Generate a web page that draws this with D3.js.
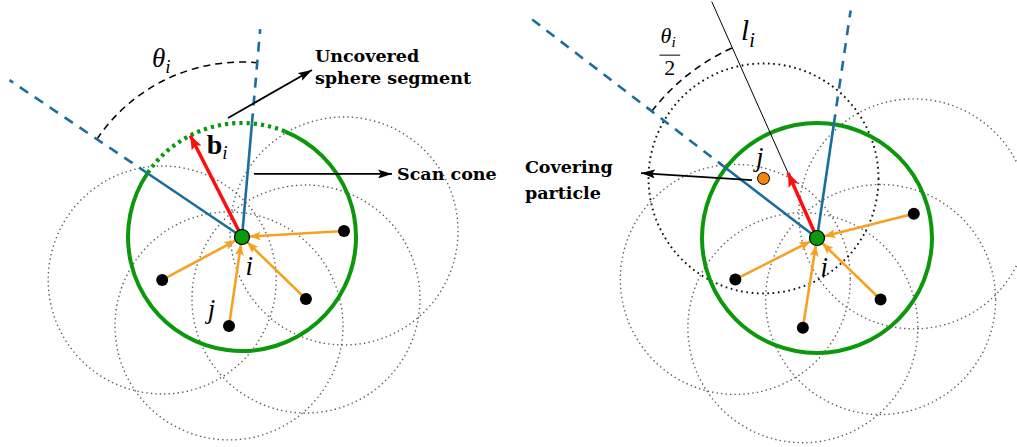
<!DOCTYPE html>
<html>
<head>
<meta charset="utf-8">
<script src="https://cdn.jsdelivr.net/npm/d3@7"></script>
<style>
  body { margin: 0; background: #fff; }
  svg { display: block; }
</style>
</head>
<body>
<div id="fig"></div>
<script>
// panel layout (pixel centre of particle i and pixel size of one radius)
var panels = ['left', 'right'];
var panelCenterX = [242, 817];
var panelCenterY = [237, 238];
var panelRadius = [114, 115];

// neighbour particles j, offsets from i in radius units (y up)
var neighboursLeft = [[0.895, 0.053], [-0.70, -0.377], [0.561, -0.544], [-0.114, -0.78]];
var neighboursRight = [[0.842, 0.21], [-0.71, -0.36], [0.553, -0.535], [-0.123, -0.78]];

// scan cone edges, degrees, and how far the dashed part reaches (radius units)
var coneAngles = [[146, 85], [142.5, 81.6]];
var coneReach = [[2.46, 1.83], [3.15, 2.0]];

// b_i direction (deg) and length (radius units)
var bAngle = [117, 114];
var bLength = [1.0, 0.62];

// angle arc radius (radius units)
var arcRadius = [1.535, 1.81];

// uncovered segment of the green sphere (deg), left panel only
var uncovered = [68, 146];

// covering particle (right panel)
var covering = [-0.465, 0.518];

var green = '#0b980b', blue = '#1b6d9b', orange = '#f7a123', red = '#ff0d0d';
var mathFont = '"Liberation Serif", "DejaVu Serif", serif';
var boldFont = '"DejaVu Serif", "Liberation Serif", serif';

var W = 1017, H = 447;
var svg = d3.select('#fig').append('svg')
	.attr('width', W)
	.attr('height', H)
	.style('font-family', boldFont);

var defs = svg.append('defs');
function marker(id, color, len, wid) {
	defs.append('marker')
		.attr('id', id)
		.attr('markerUnits', 'userSpaceOnUse')
		.attr('viewBox', '0 0 ' + len + ' ' + wid)
		.attr('refX', len).attr('refY', wid / 2)
		.attr('markerWidth', len).attr('markerHeight', wid)
		.attr('orient', 'auto')
		.append('path')
		.attr('d', 'M0,0 L' + len + ',' + (wid / 2) + ' L0,' + wid + ' L' + (len * 0.2) + ',' + (wid / 2) + 'Z')
		.attr('fill', color);
}
marker('headBlack', '#000', 14, 9);
marker('headOrange', orange, 11, 9);
marker('headRed', red, 14, 11);

function rad(d) { return d * Math.PI / 180; }

// open arc from math angle a0 to a1 (deg, ccw from +x)
function arcPath(r, a0, a1) {
	var p = d3.path();
	p.moveTo(r * Math.cos(rad(a0)), -r * Math.sin(rad(a0)));
	p.arc(0, 0, r, -rad(a0), -rad(a1), a1 > a0);
	return p.toString();
}

panels.forEach(function(name, p) {
	var R = panelRadius[p];
	var x = d3.scaleLinear().domain([-1, 1]).range([panelCenterX[p] - R, panelCenterX[p] + R]);
	var y = d3.scaleLinear().domain([-1, 1]).range([panelCenterY[p] + R, panelCenterY[p] - R]);
	var g = svg.append('g').attr('class', name);
	var nb = p === 0 ? neighboursLeft : neighboursRight;
	function polar(a, r) { return [x(r * Math.cos(rad(a))), y(r * Math.sin(rad(a)))]; }

	// neighbour spheres (grey dotted)
	g.selectAll('circle.nbsphere').data(nb).enter().append('circle')
		.attr('class', 'nbsphere')
		.attr('cx', function(d) { return x(d[0]); })
		.attr('cy', function(d) { return y(d[1]); })
		.attr('r', x(1) - x(0))
		.attr('fill', 'none')
		.attr('stroke', '#5e5e5e')
		.attr('stroke-width', 1.4)
		.attr('stroke-dasharray', '1.4,3.1');

	// covering particle sphere (black dotted)
	if (p === 1) {
		g.append('circle')
			.attr('cx', x(covering[0])).attr('cy', y(covering[1]))
			.attr('r', x(1) - x(0))
			.attr('fill', 'none')
			.attr('stroke', '#111')
			.attr('stroke-width', 1.9)
			.attr('stroke-dasharray', '1.7,3.6');
	}

	// green sphere of particle i
	var tr = 'translate(' + x(0) + ',' + y(0) + ')';
	if (p === 0) {
		g.append('path').attr('transform', tr)
			.attr('d', arcPath(R, uncovered[1], uncovered[0] + 360))
			.attr('fill', 'none').attr('stroke', green).attr('stroke-width', 4);
		g.append('path').attr('transform', tr)
			.attr('d', arcPath(R, uncovered[0], uncovered[1]))
			.attr('fill', 'none').attr('stroke', green).attr('stroke-width', 4.2)
			.attr('stroke-dasharray', '3.2,4');
	} else {
		g.append('circle')
			.attr('cx', x(0)).attr('cy', y(0)).attr('r', R)
			.attr('fill', 'none').attr('stroke', green).attr('stroke-width', 4);
	}

	// angle arc (black dashed)
	var arcEnd = p === 0 ? coneAngles[0][1] : bAngle[1];
	g.append('path').attr('transform', tr)
		.attr('d', arcPath(x(arcRadius[p]) - x(0), coneAngles[p][0], arcEnd))
		.attr('fill', 'none').attr('stroke', '#000').attr('stroke-width', 1.5)
		.attr('stroke-dasharray', '7,5');

	// l_i line (right panel)
	if (p === 1) {
		var lEnd = polar(bAngle[1], 2.25);
		g.append('line')
			.attr('x1', x(0)).attr('y1', y(0))
			.attr('x2', lEnd[0]).attr('y2', lEnd[1])
			.attr('stroke', '#000').attr('stroke-width', 1);
	}

	// scan cone edges
	coneAngles[p].forEach(function(a, k) {
		var inner = polar(a, 1), outer = polar(a, coneReach[p][k]);
		g.append('line')
			.attr('x1', x(0)).attr('y1', y(0)).attr('x2', inner[0]).attr('y2', inner[1])
			.attr('stroke', blue).attr('stroke-width', 2.6);
		g.append('line')
			.attr('x1', inner[0]).attr('y1', inner[1]).attr('x2', outer[0]).attr('y2', outer[1])
			.attr('stroke', blue).attr('stroke-width', 2.6)
			.attr('stroke-dasharray', '10,8');
	});

	// orange arrows j -> i
	g.selectAll('line.pull').data(nb).enter().append('line')
		.attr('class', 'pull')
		.attr('x1', function(d) { return x(d[0]); })
		.attr('y1', function(d) { return y(d[1]); })
		.attr('x2', function(d) { var L = Math.hypot(d[0], d[1]); return x(d[0] * 7.5 / R / L); })
		.attr('y2', function(d) { var L = Math.hypot(d[0], d[1]); return y(d[1] * 7.5 / R / L); })
		.attr('stroke', orange).attr('stroke-width', 2.6)
		.attr('marker-end', 'url(#headOrange)');

	// b_i red arrow
	var bt = polar(bAngle[p], bLength[p]);
	g.append('line')
		.attr('x1', x(0)).attr('y1', y(0)).attr('x2', bt[0]).attr('y2', bt[1])
		.attr('stroke', red).attr('stroke-width', 3.5)
		.attr('marker-end', 'url(#headRed)');

	// neighbour particles
	g.selectAll('circle.nb').data(nb).enter().append('circle')
		.attr('class', 'nb')
		.attr('cx', function(d) { return x(d[0]); })
		.attr('cy', function(d) { return y(d[1]); })
		.attr('r', 6).attr('fill', '#000');

	// particle i
	g.append('circle')
		.attr('cx', x(0)).attr('cy', y(0)).attr('r', 7.5)
		.attr('fill', '#0a9a0a').attr('stroke', '#000').attr('stroke-width', 1.2);

	if (p === 1) {
		g.append('circle')
			.attr('cx', x(covering[0])).attr('cy', y(covering[1])).attr('r', 6)
			.attr('fill', '#f5840f').attr('stroke', '#000').attr('stroke-width', 1);
	}

	// math labels
	function italic(tx, ty, main, sub, size) {
		var t = g.append('text').attr('x', tx).attr('y', ty)
			.style('font-family', mathFont)
			.style('font-style', 'italic').style('font-size', size + 'px')
			.text(main);
		if (sub) t.append('tspan').attr('dy', size * 0.22).style('font-size', (size * 0.7) + 'px').text(sub);
		return t;
	}
	italic(x(0.03), y(-0.33), 'i', null, 27);

	if (p === 0) {
		italic(x(-0.30), y(-0.71), 'j', null, 27);
		italic(x(-0.79), y(1.49), 'θ', 'i', 27);
		var bt2 = g.append('text').attr('x', x(-0.31)).attr('y', y(0.73))
			.style('font-family', mathFont)
			.style('font-size', '28px').style('font-weight', 'bold').text('b');
		bt2.append('tspan').attr('dy', 5).style('font-style', 'italic').style('font-weight', 'normal')
			.style('font-size', '19px').text('i');

		// annotations
		var ua = [[-0.123, 1.044], [0.614, 1.465]];
		g.append('line')
			.attr('x1', x(ua[0][0])).attr('y1', y(ua[0][1])).attr('x2', x(ua[1][0])).attr('y2', y(ua[1][1]))
			.attr('stroke', '#000').attr('stroke-width', 1.8).attr('marker-end', 'url(#headBlack)');
		var sa = [[0.105, 0.553], [1.316, 0.553]];
		g.append('line')
			.attr('x1', x(sa[0][0])).attr('y1', y(sa[0][1])).attr('x2', x(sa[1][0])).attr('y2', y(sa[1][1]))
			.attr('stroke', '#000').attr('stroke-width', 1.8).attr('marker-end', 'url(#headBlack)');
		g.append('text').attr('x', x(0.64)).attr('y', y(1.535))
			.style('font-weight', 'bold').style('font-size', '17.5px').text('Uncovered');
		g.append('text').attr('x', x(0.64)).attr('y', y(1.342))
			.style('font-weight', 'bold').style('font-size', '17.5px').text('sphere segment');
		g.append('text').attr('x', x(1.36)).attr('y', y(0.50))
			.style('font-weight', 'bold').style('font-size', '17.5px').text('Scan cone');
	} else {
		italic(x(-0.53), y(0.626), 'j', null, 27);
		italic(x(-0.66), y(1.72), 'l', 'i', 29);
		// theta_i / 2
		italic(x(-1.36), y(1.70), 'θ', 'i', 22);
		g.append('line')
			.attr('x1', x(-1.37)).attr('x2', x(-1.19))
			.attr('y1', y(1.59)).attr('y2', y(1.59))
			.attr('stroke', '#000').attr('stroke-width', 1);
		g.append('text').attr('x', x(-1.28)).attr('y', y(1.42))
			.attr('text-anchor', 'middle')
			.style('font-family', mathFont).style('font-size', '22px').text('2');

		var ca = [[-0.565, 0.504], [-1.53, 0.565]];
		g.append('line')
			.attr('x1', x(ca[0][0])).attr('y1', y(ca[0][1])).attr('x2', x(ca[1][0])).attr('y2', y(ca[1][1]))
			.attr('stroke', '#000').attr('stroke-width', 1.8).attr('marker-end', 'url(#headBlack)');
		g.append('text').attr('x', x(-2.54)).attr('y', y(0.565))
			.style('font-weight', 'bold').style('font-size', '17.5px').text('Covering');
		g.append('text').attr('x', x(-2.54)).attr('y', y(0.339))
			.style('font-weight', 'bold').style('font-size', '17.5px').text('particle');
	}
});
</script>
</body>
</html>
